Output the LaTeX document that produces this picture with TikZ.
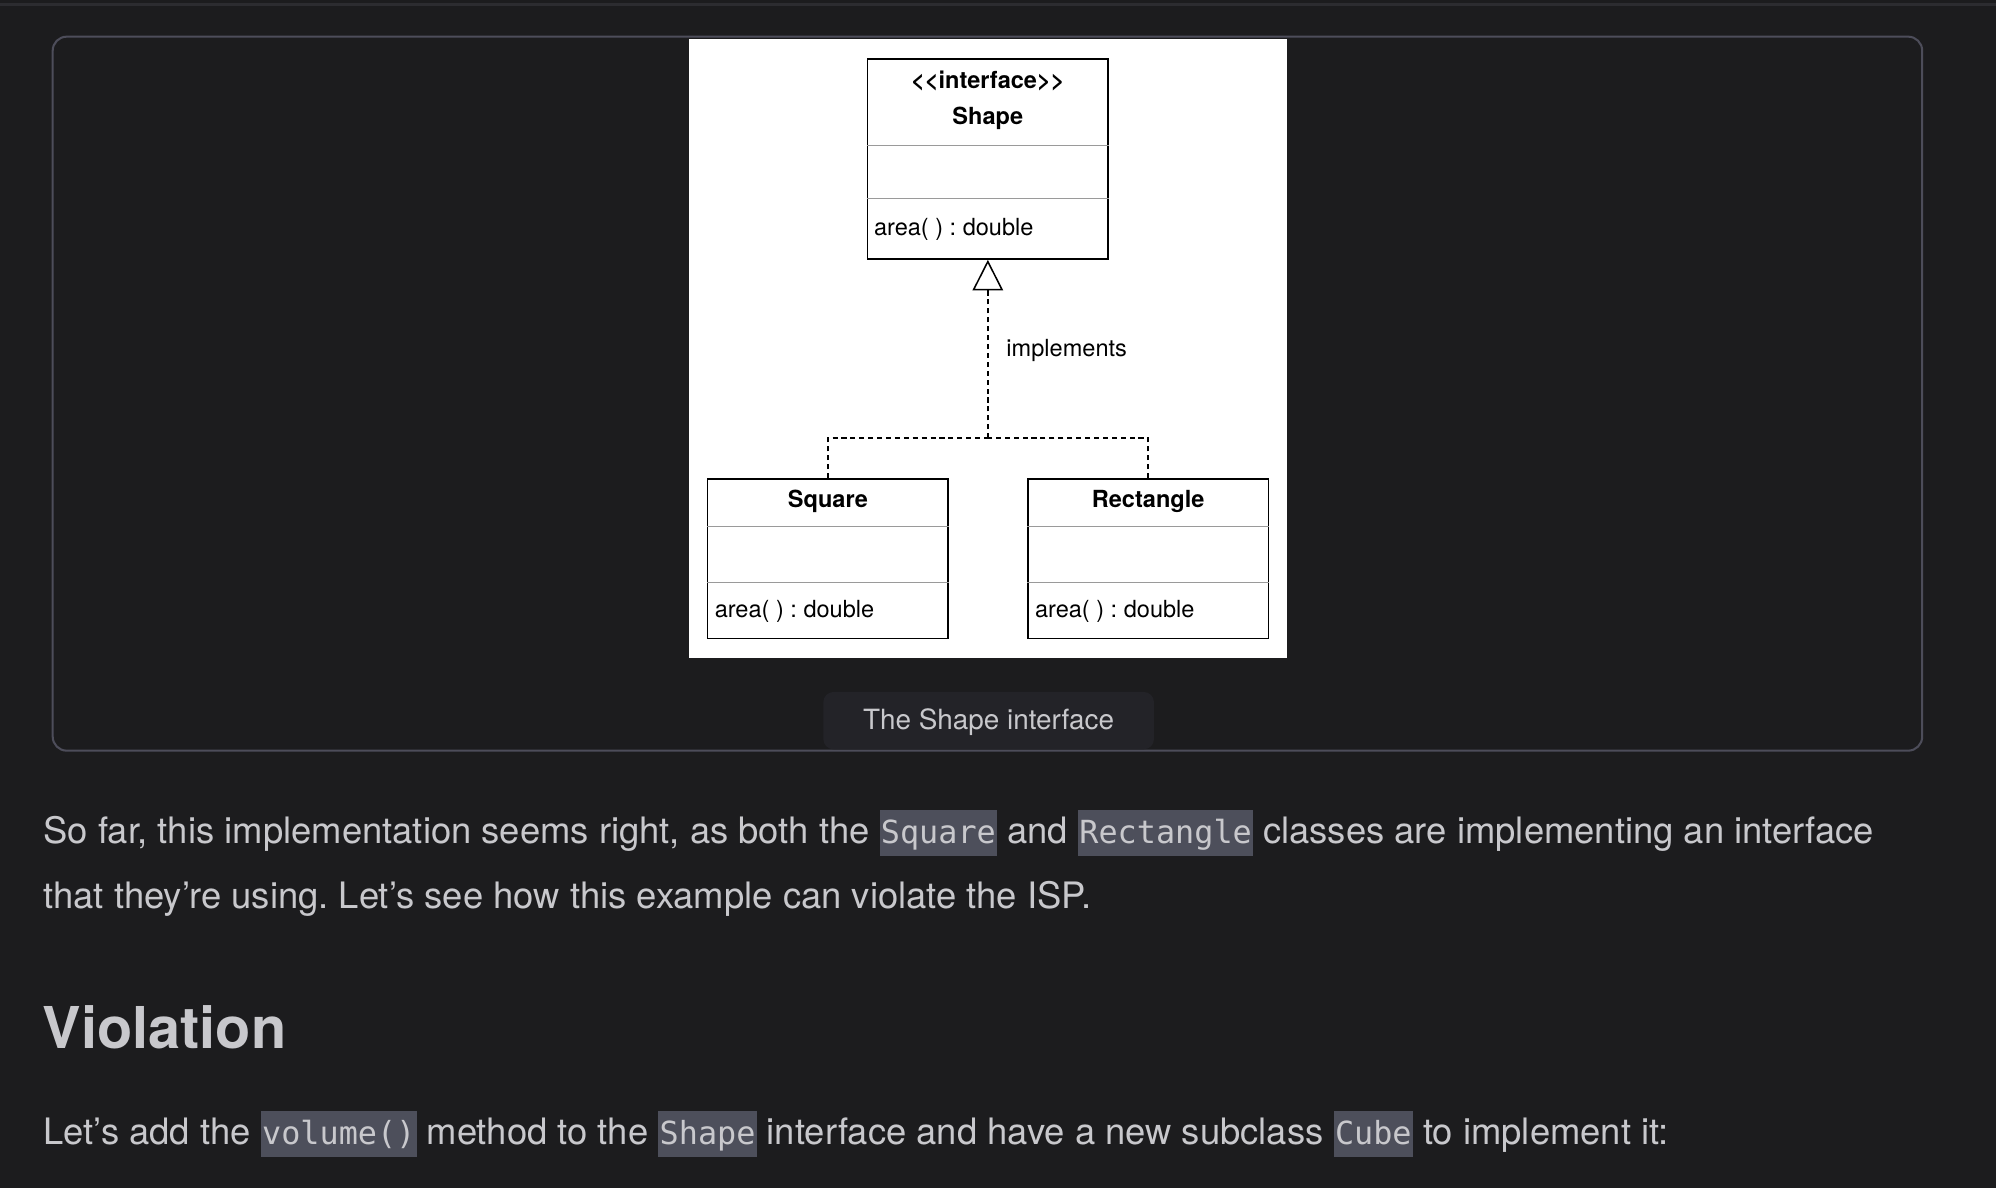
\documentclass[tikz,border=0pt]{standalone}
\usepackage{fontspec}
\setmainfont{TeX Gyre Heros}
\setmonofont{DejaVu Sans Mono}
\usetikzlibrary{arrows.meta}
\frenchspacing

\definecolor{pagebg}{HTML}{1C1C1E}
\definecolor{toprule}{HTML}{2C2C30}
\definecolor{panelline}{HTML}{4D4D5A}
\definecolor{captionbg}{HTML}{232328}
\definecolor{codebg}{HTML}{4D4F5B}
\definecolor{bodytext}{HTML}{C8C8CC}
\definecolor{umlsep}{HTML}{9A9A9A}

\newcommand\inlinecode[1]{{\setlength{\fboxsep}{0pt}\colorbox{codebg}{\rule[-9.7pt]{0pt}{35.9pt}\kern1pt\ttfamily\fontsize{25}{30}\selectfont #1\kern1pt}}}

\tikzset{
  umlbox/.style={draw=black, line width=1.3pt, fill=white, inner sep=0pt, minimum width=189pt},
  umltitle/.style={inner sep=0pt, font=\bfseries\fontsize{18.5}{20}\selectfont},
  umlitem/.style={anchor=west, inner sep=0pt, font=\fontsize{18.5}{20}\selectfont},
  umlsepline/.style={draw=umlsep, line width=1pt},
  realize/.style={draw=black, line width=1.2pt, dash pattern=on 4pt off 3pt},
  bodyline/.style={anchor=base west, inner sep=0pt, text=bodytext, font=\fontsize{28.6}{33}\selectfont},
  heading/.style={anchor=base west, inner sep=0pt, text=bodytext, font=\bfseries\fontsize{45.3}{50}\selectfont}
}

\begin{document}
\begin{tikzpicture}[x=1pt,y=-1pt]
  \useasboundingbox (0,0) rectangle (1568,933);
  \fill[pagebg] (0,0) rectangle (1568,933);
  \draw[toprule, line width=2pt] (0,3.5) -- (1568,3.5);

  % figure panel
  \draw[panelline, line width=1.6pt, rounded corners=11pt] (41.4,28.8) rectangle (1510,589.7);
  \fill[white] (541,31) rectangle (1011,517);

  % interface
  \node[umlbox, minimum height=157pt] (shapebox) at (776,125) {};
  \draw[umlsepline] (shapebox.west |- 0,114.3) -- (shapebox.east |- 0,114.3);
  \draw[umlsepline] (shapebox.west |- 0,156.2) -- (shapebox.east |- 0,156.2);
  \node[umltitle] (shapestereo) at (776,63.5) {<{}<interface>{}>};
  \node[umltitle] (shapename) at (776,92.6) {Shape};
  \node[umlitem] (shapearea) at (686.4,180.2) {area( ) : double};

  % subclasses
  \node[umlbox, minimum height=125.5pt] (squarebox) at (650.35,438.95) {};
  \draw[umlsepline] (squarebox.west |- 0,413.6) -- (squarebox.east |- 0,413.6);
  \draw[umlsepline] (squarebox.west |- 0,457.8) -- (squarebox.east |- 0,457.8);
  \node[umltitle] (squarename) at (650.35,393.6) {Square};
  \node[umlitem] (squarearea) at (561.3,480.5) {area( ) : double};

  \node[umlbox, minimum height=125.5pt] (rectbox) at (901.95,438.95) {};
  \draw[umlsepline] (rectbox.west |- 0,413.6) -- (rectbox.east |- 0,413.6);
  \draw[umlsepline] (rectbox.west |- 0,457.8) -- (rectbox.east |- 0,457.8);
  \node[umltitle] (rectname) at (901.95,393.6) {Rectangle};
  \node[umlitem] (rectarea) at (812.9,480.5) {area( ) : double};

  % realization
  \coordinate (joint) at (776,344.2);
  \draw[realize] (squarebox.north) |- (joint);
  \draw[realize] (rectbox.north) |- (joint);
  \draw[realize, -{Triangle[open, width=24pt, length=24pt, fill=white]}] (joint) -- (shapebox.south);
  \node[umlitem] (implabel) at (790.4,275) {implements};

  % caption
  \fill[captionbg, rounded corners=8pt] (646.8,543.6) rectangle (906.5,588.6);
  \node[inner sep=0pt, text=bodytext, font=\fontsize{21.9}{24}\selectfont] (caption) at (776.6,567.5) {The Shape interface};

  % text below
  \node[bodyline] (paraonea) at (34,662.5) {So far, this implementation seems right, as both the \inlinecode{Square} and \inlinecode{Rectangle} classes are implementing an interface};
  \node[bodyline] (paraoneb) at (34,713.5) {that they’re using. Let’s see how this example can violate the ISP.};
  \node[heading] (violation) at (33.5,824) {Violation};
  \node[bodyline] (paratwo) at (34,899) {Let’s add the \inlinecode{volume()} method to the \inlinecode{Shape} interface and have a new subclass \inlinecode{Cube} to implement it:};
\end{tikzpicture}
\end{document}
